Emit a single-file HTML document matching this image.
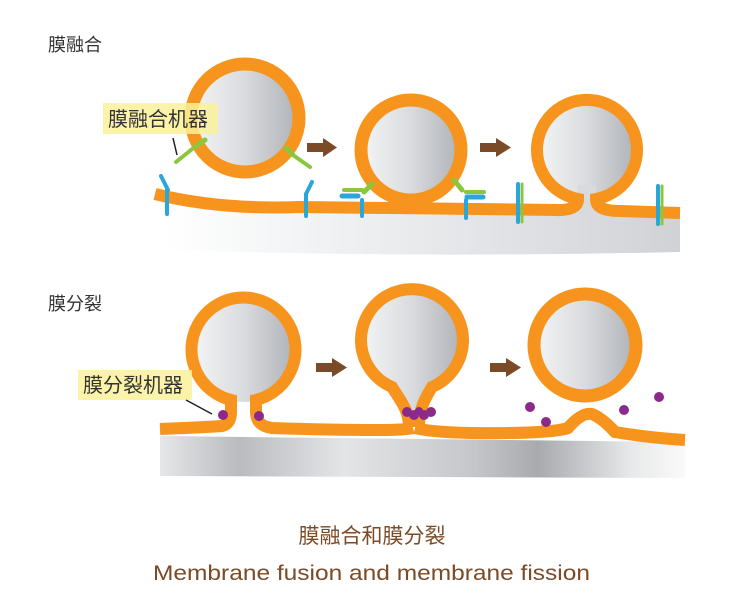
<!DOCTYPE html>
<html><head><meta charset="utf-8"><style>
html,body{margin:0;padding:0;background:#fff;width:742px;height:604px;overflow:hidden}
svg{display:block}
</style></head><body>
<svg width="742" height="604" viewBox="0 0 742 604" xmlns="http://www.w3.org/2000/svg">
<defs>
<linearGradient id="cg" x1="0" y1="0" x2="1" y2="0">
<stop offset="0" stop-color="#f4f5f6"/><stop offset="0.5" stop-color="#d9dbde"/><stop offset="1" stop-color="#aeb1b6"/>
</linearGradient>
<linearGradient id="bg1" x1="0" y1="0" x2="1" y2="0">
<stop offset="0" stop-color="#ffffff"/><stop offset="0.4" stop-color="#eceef0"/><stop offset="0.75" stop-color="#dcdee1"/><stop offset="1" stop-color="#d0d2d5"/>
</linearGradient>
<linearGradient id="bg2" x1="0" y1="0" x2="1" y2="0">
<stop offset="0" stop-color="#e6e7e9"/><stop offset="0.15" stop-color="#b9bbbf"/><stop offset="0.35" stop-color="#e4e5e7"/><stop offset="0.6" stop-color="#c4c6c9"/><stop offset="0.72" stop-color="#a8aaae"/><stop offset="0.9" stop-color="#e8e9ea"/><stop offset="1" stop-color="#fafafa"/>
</linearGradient>
</defs>

<text x="48" y="51" font-family="Liberation Sans, Noto Sans CJK SC, sans-serif" font-size="18" fill="#333">膜融合</text>
<text x="48" y="310" font-family="Liberation Sans, Noto Sans CJK SC, sans-serif" font-size="18" fill="#333">膜分裂</text>

<!-- ===== TOP ROW ===== -->
<path d="M165,200 Q230,212 300,208 L680,213 L680,252 Q420,258 168,250 Z" fill="url(#bg1)"/>
<circle cx="245" cy="118" r="54" fill="url(#cg)" stroke="#f7941d" stroke-width="13"/>
<circle cx="411" cy="150" r="50" fill="url(#cg)" stroke="#f7941d" stroke-width="13"/>
<path d="M155,194 Q220,210 300,207 L560,210" fill="none" stroke="#f7941d" stroke-width="12"/>
<!-- omega -->
<circle cx="587" cy="150" r="50" fill="url(#cg)"/>
<rect x="578" y="185" width="18" height="30" fill="#d8dadd"/>
<path d="M555,210 Q578,211 578,199 A50,50 0 1 1 596,199 Q596,211 620,211 L680,213" fill="none" stroke="#f7941d" stroke-width="12"/>

<g stroke-linecap="round" fill="none">
<line x1="167" y1="190" x2="167" y2="214" stroke="#2aa6d8" stroke-width="4"/>
<line x1="161" y1="176" x2="168" y2="190" stroke="#2aa6d8" stroke-width="4"/>
<line x1="306" y1="194" x2="306" y2="216" stroke="#2aa6d8" stroke-width="4"/>
<line x1="312" y1="182" x2="306" y2="194" stroke="#2aa6d8" stroke-width="4"/>
<line x1="362" y1="200" x2="362" y2="216" stroke="#2aa6d8" stroke-width="4"/>
<line x1="342" y1="196" x2="358" y2="196" stroke="#2aa6d8" stroke-width="5"/>
<line x1="466" y1="200" x2="466" y2="218" stroke="#2aa6d8" stroke-width="4"/>
<line x1="467" y1="197" x2="483" y2="197" stroke="#2aa6d8" stroke-width="5"/>
<line x1="518" y1="184" x2="518" y2="222" stroke="#2aa6d8" stroke-width="4"/>
<line x1="522" y1="184" x2="522" y2="222" stroke="#8cc63f" stroke-width="3"/>
<line x1="658" y1="186" x2="658" y2="224" stroke="#2aa6d8" stroke-width="4"/>
<line x1="662" y1="186" x2="662" y2="224" stroke="#8cc63f" stroke-width="3"/>
<line x1="196" y1="146" x2="205" y2="140" stroke="#8cc63f" stroke-width="5"/>
<line x1="196" y1="146" x2="176" y2="162" stroke="#8cc63f" stroke-width="4"/>
<line x1="286" y1="148" x2="293" y2="155" stroke="#8cc63f" stroke-width="5"/>
<line x1="293" y1="155" x2="310" y2="167" stroke="#8cc63f" stroke-width="4"/>
<line x1="372" y1="184" x2="364" y2="192" stroke="#8cc63f" stroke-width="5"/>
<line x1="344" y1="190" x2="362" y2="190" stroke="#8cc63f" stroke-width="4"/>
<line x1="454" y1="180" x2="462" y2="190" stroke="#8cc63f" stroke-width="5"/>
<line x1="466" y1="192" x2="484" y2="192" stroke="#8cc63f" stroke-width="4"/>
</g>

<g fill="#7b4a26">
<rect x="307" y="143" width="18" height="9"/><polygon points="323,138 337,147.5 323,157"/>
<rect x="480" y="143" width="18" height="9"/><polygon points="496,138 511,147.5 496,157"/>
<rect x="316" y="363" width="18" height="9"/><polygon points="332,358 347,367.5 332,377"/>
<rect x="490" y="363" width="18" height="9"/><polygon points="506,358 521,367.5 506,377"/>
</g>

<rect x="103" y="103" width="115" height="31" fill="#faf19a" opacity="0.85"/>
<text x="108" y="126" font-family="Liberation Sans, Noto Sans CJK SC, sans-serif" font-size="20" fill="#333">膜融合机器</text>
<line x1="173" y1="138" x2="177" y2="155" stroke="#222" stroke-width="1.5"/>

<!-- ===== BOTTOM ROW ===== -->
<path d="M160,436 L685,442 L685,478 L160,476 Z" fill="url(#bg2)"/>
<circle cx="244" cy="350" r="52" fill="url(#cg)"/>
<path d="M160,429 Q210,427 222,426 Q231,424 231,412 L231,400 A52,52 0 1 1 256,400 L256,412 Q256,426 272,428 Q330,430 380,430 Q405,430 413,428" fill="none" stroke="#f7941d" stroke-width="12"/>
<path d="M409,427 C409,410 400,400 392,387 A51,51 0 1 1 432,387 C424,400 419,410 419,427" fill="url(#cg)" stroke="#f7941d" stroke-width="12"/>
<path d="M415,428 Q430,432 470,433 Q550,434 568,428 Q582,412 592,414 Q602,418 615,432 Q650,438 685,440" fill="none" stroke="#f7941d" stroke-width="12"/>
<circle cx="585" cy="345" r="51" fill="url(#cg)" stroke="#f7941d" stroke-width="13"/>

<g fill="#8b2a8b">
<circle cx="223" cy="415" r="5"/><circle cx="259" cy="416" r="5"/>
<circle cx="407" cy="412" r="5"/><circle cx="414" cy="415" r="5"/><circle cx="424" cy="415" r="5"/><circle cx="431" cy="412" r="5"/><circle cx="419" cy="411" r="4"/>
<circle cx="530" cy="407" r="5"/><circle cx="546" cy="422" r="5"/><circle cx="624" cy="410" r="5"/><circle cx="659" cy="397" r="5"/>
</g>

<rect x="78" y="370" width="114" height="30" fill="#faf19a" opacity="0.85"/>
<text x="83" y="392" font-family="Liberation Sans, Noto Sans CJK SC, sans-serif" font-size="20" fill="#333">膜分裂机器</text>
<line x1="186" y1="400" x2="212" y2="414" stroke="#222" stroke-width="1.5"/>

<text x="372" y="543" text-anchor="middle" font-family="Liberation Sans, Noto Sans CJK SC, sans-serif" font-size="21" fill="#7b4a26">膜融合和膜分裂</text>
<text x="153" y="580" textLength="437" lengthAdjust="spacingAndGlyphs" font-family="Liberation Sans, sans-serif" font-size="21" fill="#7b4a26">Membrane fusion and membrane fission</text>
</svg>
</body></html>
